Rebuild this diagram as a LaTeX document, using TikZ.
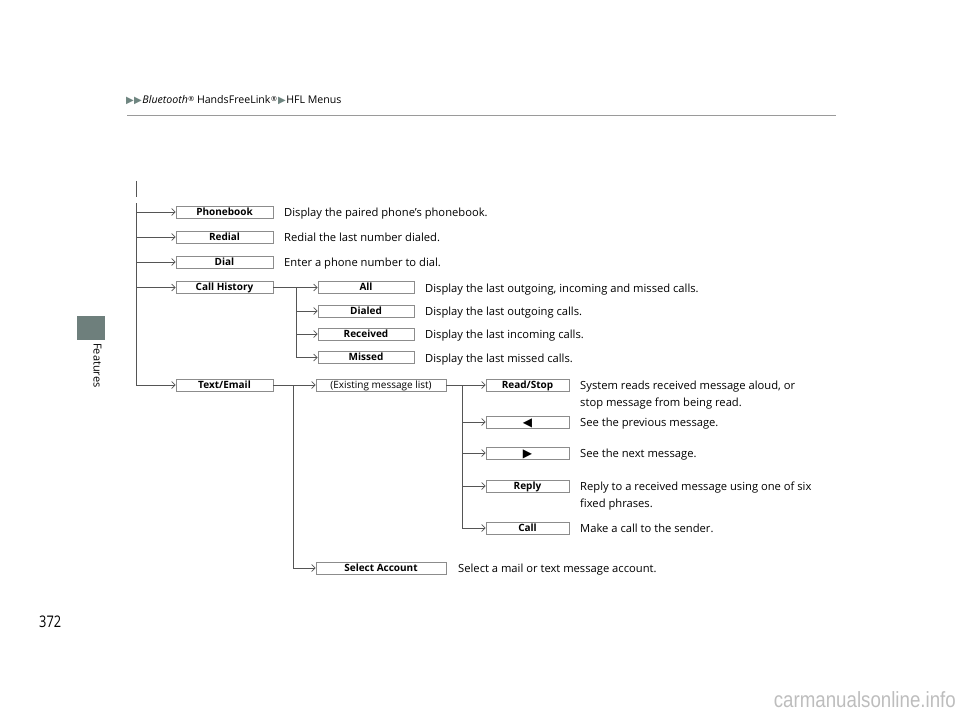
\documentclass[tikz,border=0pt]{standalone}
\usepackage{fontspec}
\setmainfont{Open Sans}
\newfontfamily\dejavu{DejaVu Sans}
\newfontfamily\libsans{Liberation Sans}
\usetikzlibrary{arrows.meta,shadows}
\definecolor{lnc}{HTML}{555555}
\definecolor{boxc}{HTML}{8C8C8C}
\definecolor{tabc}{HTML}{6E7F7C}
\definecolor{hdrc}{HTML}{6E8580}
\definecolor{rulec}{HTML}{9A9A9A}
\definecolor{wmc}{HTML}{BDBDBD}
\newcommand{\regmk}{\raisebox{0.3ex}{\fontsize{7}{7}\selectfont ®}}
\newcommand{\hdrtri}{{\color{hdrc}\dejavu\fontsize{10}{10}\selectfont ▶}}
\begin{document}
\begin{tikzpicture}[x=1pt,y=-1pt,
  conn/.style={draw=lnc, line width=0.8pt},
  arr/.style={conn, -{Straight Barb[length=3.5pt,width=7pt,line width=0.7pt]}},
  mbox/.style={draw=boxc, fill=white, line width=0.6pt, inner sep=0pt,
    minimum height=12pt, text height=6pt, text depth=0pt,
    font=\fontsize{10}{11}\selectfont\bfseries,
    general shadow={fill=boxc!85, shadow xshift=0.5pt, shadow yshift=-0.9pt}},
  lone/.style={mbox, minimum width=97pt},
  ltwo/.style={mbox, minimum width=96pt},
  lwide/.style={mbox, minimum width=130pt},
  lthree/.style={mbox, minimum width=83pt},
  desc/.style={anchor=base west, inner sep=0pt, font=\fontsize{11.2}{16.5}\selectfont},
  hdr/.style={anchor=west, inner sep=0pt, font=\fontsize{10.6}{11}\selectfont}
]
\useasboundingbox (0,0) rectangle (960,722);

% header
\node[hdr] (header) at (126,100) {\hdrtri\kern0.3pt\hdrtri\kern0.6pt{\itshape Bluetooth}\kern0.5pt\regmk\ HandsFreeLink\kern0.5pt\regmk\kern1.2pt\hdrtri\kern0.6pt HFL Menus};
\coordinate (rl) at (127,116);
\coordinate (rr) at (836,116);
\draw[rulec, line width=1pt] (rl) -- (rr);

% side tab
\fill[tabc] (77,316) rectangle (105,340);
\node[rotate=-90, anchor=west, inner sep=0pt, font=\fontsize{11}{12}\selectfont] (tab) at (97.5,343) {Features};

% page number and watermark
\node[anchor=west, inner sep=0pt, font=\fontsize{16}{17}\selectfont] (page) at (39,622) {\scalebox{0.8}[1]{372}};
\node[anchor=east, inner sep=0pt, text=wmc, font=\libsans\fontsize{22}{23}\selectfont] (wm) at (956,700) {\scalebox{0.85}[1]{carmanualsonline.info}};

% short separator line
\coordinate (sa) at (136,181);
\coordinate (sb) at (136,197);
\draw[conn] (sa) -- (sb);

% level 1
\node[lone] (phonebook) at (224.5,212) {Phonebook};
\node[lone] (redial) at (224.5,237) {Redial};
\node[lone] (dial) at (224.5,262) {Dial};
\node[lone] (callhist) at (224.5,287.5) {Call History};
\node[lone] (textemail) at (224.5,385) {Text/Email};

\node[desc] (dphone) at (284,216.5) {Display the paired phone’s phonebook.};
\node[desc] (dredial) at (284,241.5) {Redial the last number dialed.};
\node[desc] (ddial) at (284,266.5) {Enter a phone number to dial.};

% main trunk
\coordinate (mt) at (136,203);
\draw[arr] (mt) |- (textemail.west);
\draw[arr] (mt |- phonebook) -- (phonebook.west);
\draw[arr] (mt |- redial) -- (redial.west);
\draw[arr] (mt |- dial) -- (dial.west);
\draw[arr] (mt |- callhist) -- (callhist.west);

% call history
\node[ltwo] (all) at (366,287.5) {All};
\node[ltwo] (dialed) at (366,311) {Dialed};
\node[ltwo] (received) at (366,334) {Received};
\node[ltwo] (missed) at (366,357.5) {Missed};
\node[desc] (dall) at (425,292) {Display the last outgoing, incoming and missed calls.};
\node[desc] (ddialed) at (425,315.5) {Display the last outgoing calls.};
\node[desc] (dreceived) at (425,338.5) {Display the last incoming calls.};
\node[desc] (dmissed) at (425,362) {Display the last missed calls.};
\coordinate (cht) at (296,287.5);
\draw[arr] (callhist.east) -- (all.west);
\draw[arr] (cht) |- (missed.west);
\draw[arr] (cht |- dialed) -- (dialed.west);
\draw[arr] (cht |- received) -- (received.west);

% text/email
\node[lwide] (existing) at (381,385) {\mdseries(Existing message list)};
\node[lwide] (select) at (381,568) {Select Account};
\node[desc] (dselect) at (458,572.5) {Select a mail or text message account.};
\coordinate (tet) at (293,385);
\draw[arr] (textemail.east) -- (existing.west);
\draw[arr] (tet) |- (select.west);

% message actions
\node[lthree] (readstop) at (527.5,385) {Read/Stop};
\node[lthree, text height=9pt, text depth=0.5pt] (prev) at (527.5,422) {{\dejavu\fontsize{12}{12}\selectfont ◀}};
\node[lthree, text height=9pt, text depth=0.5pt] (next) at (527.5,453) {{\dejavu\fontsize{12}{12}\selectfont ▶}};
\node[lthree] (reply) at (527.5,486) {Reply};
\node[lthree] (call) at (527.5,528) {Call};
\node[desc] (dread) at (580,389.5) {\begin{tabular}[t]{@{}l@{}}System reads received message aloud, or\\stop message from being read.\end{tabular}};
\node[desc] (dprev) at (580,426.5) {See the previous message.};
\node[desc] (dnext) at (580,457.5) {See the next message.};
\node[desc] (dreply) at (580,490.5) {\begin{tabular}[t]{@{}l@{}}Reply to a received message using one of six\\fixed phrases.\end{tabular}};
\node[desc] (dcall) at (580,532.5) {Make a call to the sender.};
\coordinate (rst) at (462,385);
\draw[arr] (existing.east) -- (readstop.west);
\draw[arr] (rst) |- (call.west);
\draw[arr] (rst |- prev) -- (prev.west);
\draw[arr] (rst |- next) -- (next.west);
\draw[arr] (rst |- reply) -- (reply.west);
\end{tikzpicture}
\end{document}
